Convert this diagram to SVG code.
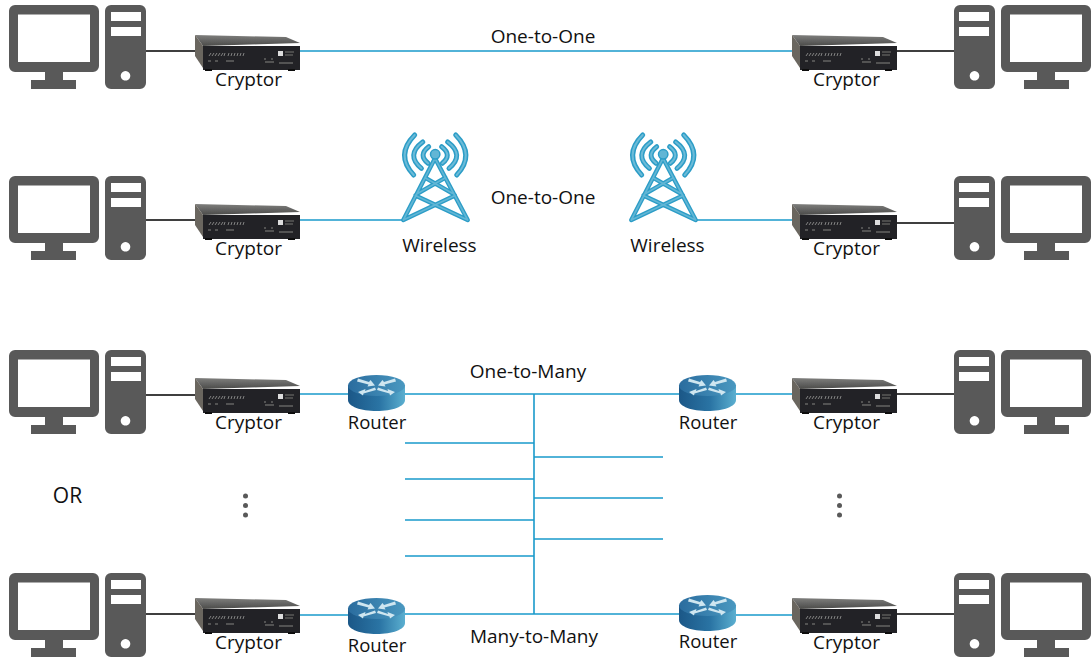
<svg xmlns="http://www.w3.org/2000/svg" width="1091" height="659" viewBox="0 0 1091 659">
<style>
text{font-family:"Open Sans","Noto Sans","Liberation Sans",sans-serif;font-size:19px;fill:#111;text-anchor:middle}
.rl{font-size:18.500px}
.b{stroke:#1a9acb;stroke-width:1.6;fill:none}
.k{stroke:#000;stroke-width:1.6;fill:none}
.g{fill:#595959}
.t1{fill:none;stroke:#2c9dc7;stroke-width:4.400;stroke-linejoin:round;stroke-linecap:round}
.t2{fill:none;stroke:#62b6d5;stroke-width:1.700;stroke-linejoin:round;stroke-linecap:round}
.a1{fill:none;stroke:#2c9dc7;stroke-width:5;stroke-linecap:round}
.a2{fill:none;stroke:#6cbbd8;stroke-width:2;stroke-linecap:round}
.d{stroke:#9a9a9a;stroke-width:.8;fill:none}
</style>
<defs>
<linearGradient id="rg" x1="0" x2="1" y1="0" y2="0"><stop offset="0" stop-color="#1b5787"/><stop offset=".55" stop-color="#2a74a4"/><stop offset="1" stop-color="#5bafd0"/></linearGradient>
<linearGradient id="tg" x1="0" x2="1" y1="0" y2="0"><stop offset="0" stop-color="#2a6c9e"/><stop offset="1" stop-color="#4a98c0"/></linearGradient>
<linearGradient id="cg" x1="0" x2="0" y1="0" y2="1"><stop offset="0" stop-color="#7f7f7d"/><stop offset="1" stop-color="#4a4a49"/></linearGradient>
<filter id="soft" x="-5%" y="-5%" width="110%" height="110%"><feGaussianBlur stdDeviation=".45"/></filter>
<path id="lat" d="M32 25.300L.3 87M32 25.300L64.700 87M22 44.700L49.300 60.300M42.400 44.700L15 60.300M.3 87L52 62.500M64.700 87L12.400 62.500"/>
<path id="arc" d="M52.700 2Q72.400 22 53.700 42M44.700 9Q62 22 46 35.300M38.700 13.700Q49.600 22 39.300 30.300M11.700 2Q-8 22 10.700 42M19.700 9Q2.400 22 18.400 35.300M25.700 13.700Q14.800 22 25.100 30.300"/>
<symbol id="pc" overflow="visible">
<path class="g" fill-rule="evenodd" d="M15 5H93a6 6 0 0 1 6 6V66a6 6 0 0 1-6 6H63V80H76V89H31V80H45V72H15a6 6 0 0 1-6-6V11a6 6 0 0 1 6-6ZM18 14.500V62H90V14.500Z"/>
<path class="g" fill-rule="evenodd" d="M111 5H140a6 6 0 0 1 6 6V83a6 6 0 0 1-6 6H111a6 6 0 0 1-6-6V11a6 6 0 0 1 6-6ZM111 12V21H141V12ZM111 27V36H141V27ZM125.500 71a4.800 4.800 0 1 0 .01 0Z"/>
</symbol>
<symbol id="cr" overflow="visible">
<g filter="url(#soft)">
<path d="M0 0L91 2L105 8L8 11Z" fill="url(#cg)"/>
<path d="M0 0L8 11V33L0 21Z" fill="#6b665f"/>
<rect x="8" y="11" width="97" height="24" fill="#232425"/>
<rect x="10" y="34" width="7" height="2" fill="#111"/><rect x="93" y="34" width="7" height="2" fill="#111"/>
<path class="d" d="M14 21l2-3M17 21l2-3M20 21l2-3M23 21l2-3M26 21l2-3M29 21l1-3M33 21l1-3M36 21l1-3M39 21l1-3M42 21l1-3M45 21l1-3M48 21l1-3"/>
<path class="d" d="M13 26h3M20 26h3M31 26h8M69 24h2M76 24h2M70 27h9M84 28h14"/>
<rect x="83" y="16" width="5" height="5" fill="#ddd"/>
<path d="M90 17h9M90 20h8" stroke="#888" stroke-width=".8"/>
</g>
</symbol>
<symbol id="rt" overflow="visible">
<path d="M0 10.500V25C0 31.500 12.800 36 28.500 36S57 31.500 57 25V10.500Z" fill="url(#rg)"/>
<ellipse cx="28.500" cy="10.500" rx="28.500" ry="10.500" fill="url(#tg)"/>
<g fill="#cfe6f0" filter="url(#soft)">
<path d="M10 3.500L21 7L22.500 5L27 10.500L19.500 11.500L20.500 9.500L9 6.500Z"/>
<path d="M47 3.500L36 7L34.500 5L30 10.500L37.500 11.500L36.500 9.500L48 6.500Z"/>
<path d="M27 12.500L17 16L17.500 14L10 17L15 20.500L15.500 18.500L28 15Z"/>
<path d="M30 12.500L40 16L39.500 14L47 17L42 20.500L41.500 18.500L29 15Z"/>
</g>
</symbol>
<symbol id="tw" overflow="visible">
<use href="#lat" class="t1"/><use href="#arc" class="a1"/>
<use href="#lat" class="t2"/><use href="#arc" class="a2"/>
<circle cx="32.200" cy="21.300" r="4.700" fill="#62b6d5" stroke="#2c9dc7" stroke-width="1.500"/>
</symbol>
</defs>

<g id="connectors">
<path class="k" d="M146 51H195M897 51H954M146 220H195M897 223H954M146 395H195M897 394H954M146 614H195M897 614H954"/>
<path class="b" d="M300 51H793M300 220H403M697 220H793M300 394H349M405 394H679M735 394H793M300 615H349M405 614H679M735 615H793M534 394V614M405 443H534M405 479H534M405 520H534M405 556H534M534 457H663M534 498H663M534 539H663"/>
</g>

<g id="pc-l1"><use href="#pc"/></g>
<g id="pc-l2"><use href="#pc" y="171"/></g>
<g id="pc-l3"><use href="#pc" y="345"/></g>
<g id="pc-l4"><use href="#pc" y="568"/></g>
<g id="pc-r1"><use href="#pc" transform="matrix(-1 0 0 1 1100 0)"/></g>
<g id="pc-r2"><use href="#pc" transform="matrix(-1 0 0 1 1100 171)"/></g>
<g id="pc-r3"><use href="#pc" transform="matrix(-1 0 0 1 1100 345)"/></g>
<g id="pc-r4"><use href="#pc" transform="matrix(-1 0 0 1 1100 568)"/></g>

<g id="cryptor-l1"><use href="#cr" x="195" y="35"/><text x="248.500" y="86">Cryptor</text></g>
<g id="cryptor-l2"><use href="#cr" x="195" y="204"/><text x="248.500" y="255">Cryptor</text></g>
<g id="cryptor-l3"><use href="#cr" x="195" y="378"/><text x="248.500" y="429">Cryptor</text></g>
<g id="cryptor-l4"><use href="#cr" x="195" y="598"/><text x="248.500" y="649">Cryptor</text></g>
<g id="cryptor-r1"><use href="#cr" x="792" y="35"/><text x="846.500" y="86">Cryptor</text></g>
<g id="cryptor-r2"><use href="#cr" x="792" y="204"/><text x="846.500" y="255">Cryptor</text></g>
<g id="cryptor-r3"><use href="#cr" x="792" y="378"/><text x="846.500" y="429">Cryptor</text></g>
<g id="cryptor-r4"><use href="#cr" x="792" y="598"/><text x="846.500" y="649">Cryptor</text></g>

<g id="wireless-l"><use href="#tw" x="403" y="133"/><text x="439.500" y="252">Wireless</text></g>
<g id="wireless-r"><use href="#tw" x="631" y="133"/><text x="667.500" y="252">Wireless</text></g>

<g id="router-l3"><use href="#rt" x="348" y="375"/><text class="rl" x="377" y="429">Router</text></g>
<g id="router-r3"><use href="#rt" x="679" y="375"/><text class="rl" x="708" y="429">Router</text></g>
<g id="router-l4"><use href="#rt" x="348" y="598"/><text class="rl" x="377" y="652">Router</text></g>
<g id="router-r4"><use href="#rt" x="679" y="595"/><text class="rl" x="708" y="648">Router</text></g>

<g id="labels">
<text x="543" y="42.500">One-to-One</text>
<text x="543" y="204">One-to-One</text>
<text x="528" y="378">One-to-Many</text>
<text x="534" y="643">Many-to-Many</text>
<text x="67.500" y="503" style="font-size:21px">OR</text>
</g>
<g id="ellipsis" fill="#595959">
<circle cx="245.500" cy="496" r="2.500"/><circle cx="245.500" cy="505.500" r="2.500"/><circle cx="245.500" cy="515" r="2.500"/>
<circle cx="839.500" cy="496" r="2.500"/><circle cx="839.500" cy="505.500" r="2.500"/><circle cx="839.500" cy="515" r="2.500"/>
</g>
</svg>
